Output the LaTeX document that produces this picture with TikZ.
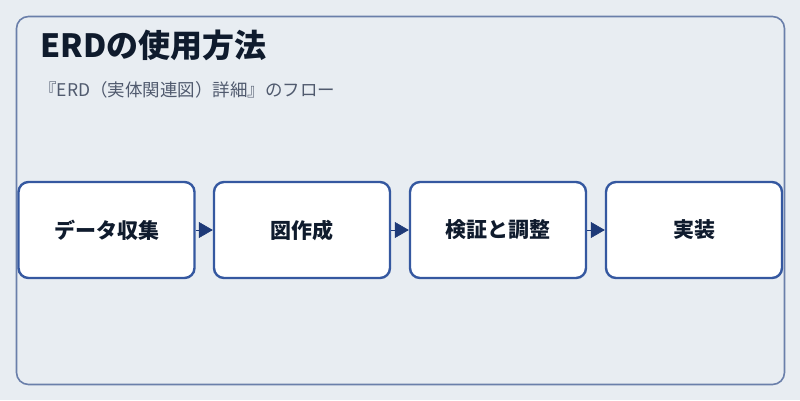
\documentclass[tikz,border=0pt]{standalone}
\usepackage{fontspec}
\newfontfamily\jp{Noto Sans CJK JP}
\usetikzlibrary{arrows.meta}
\definecolor{bgc}{HTML}{E8EDF2}
\definecolor{framec}{HTML}{6A7FAA}
\definecolor{boxc}{HTML}{3558A0}
\definecolor{titlec}{HTML}{0F1B2D}
\definecolor{subc}{HTML}{505A6E}
\definecolor{arrc}{HTML}{1E3A78}
\tikzset{
  stepbox/.style={draw=boxc, line width=2.4pt, fill=white, rounded corners=10pt,
    minimum width=176pt, minimum height=96pt, inner sep=0pt,
    font=\jp\bfseries\fontsize{21pt}{24pt}\selectfont, text=titlec},
  flow/.style={draw=arrc, line width=0.6pt, -{Triangle[length=14pt,width=16pt]}, fill=arrc},
}
\begin{document}
\begin{tikzpicture}[x=1pt,y=-1pt]
\useasboundingbox[fill=bgc] (0,0) rectangle (800,400);
\draw[framec, line width=1.6pt, rounded corners=12pt] (16.5,16.5) rectangle (784.5,384.5);
\node[anchor=base west, inner sep=0pt, text=titlec, font=\jp\bfseries\fontsize{32pt}{36pt}\selectfont] (title) at (40,57) {ERDの使用方法};
\node[anchor=base west, inner sep=0pt, text=subc, font=\jp\fontsize{17.5pt}{20pt}\selectfont] (sub) at (39,96) {『ERD（実体関連図）詳細』のフロー};
\node[stepbox] (b1) at (106.5,230) {データ収集};
\node[stepbox] (b2) at (302,230) {図作成};
\node[stepbox] (b3) at (498,230) {検証と調整};
\node[stepbox] (b4) at (694,230) {実装};
\draw[flow] (b1.east) -- (b2.west);
\draw[flow] (b2.east) -- (b3.west);
\draw[flow] (b3.east) -- (b4.west);
\end{tikzpicture}
\end{document}
